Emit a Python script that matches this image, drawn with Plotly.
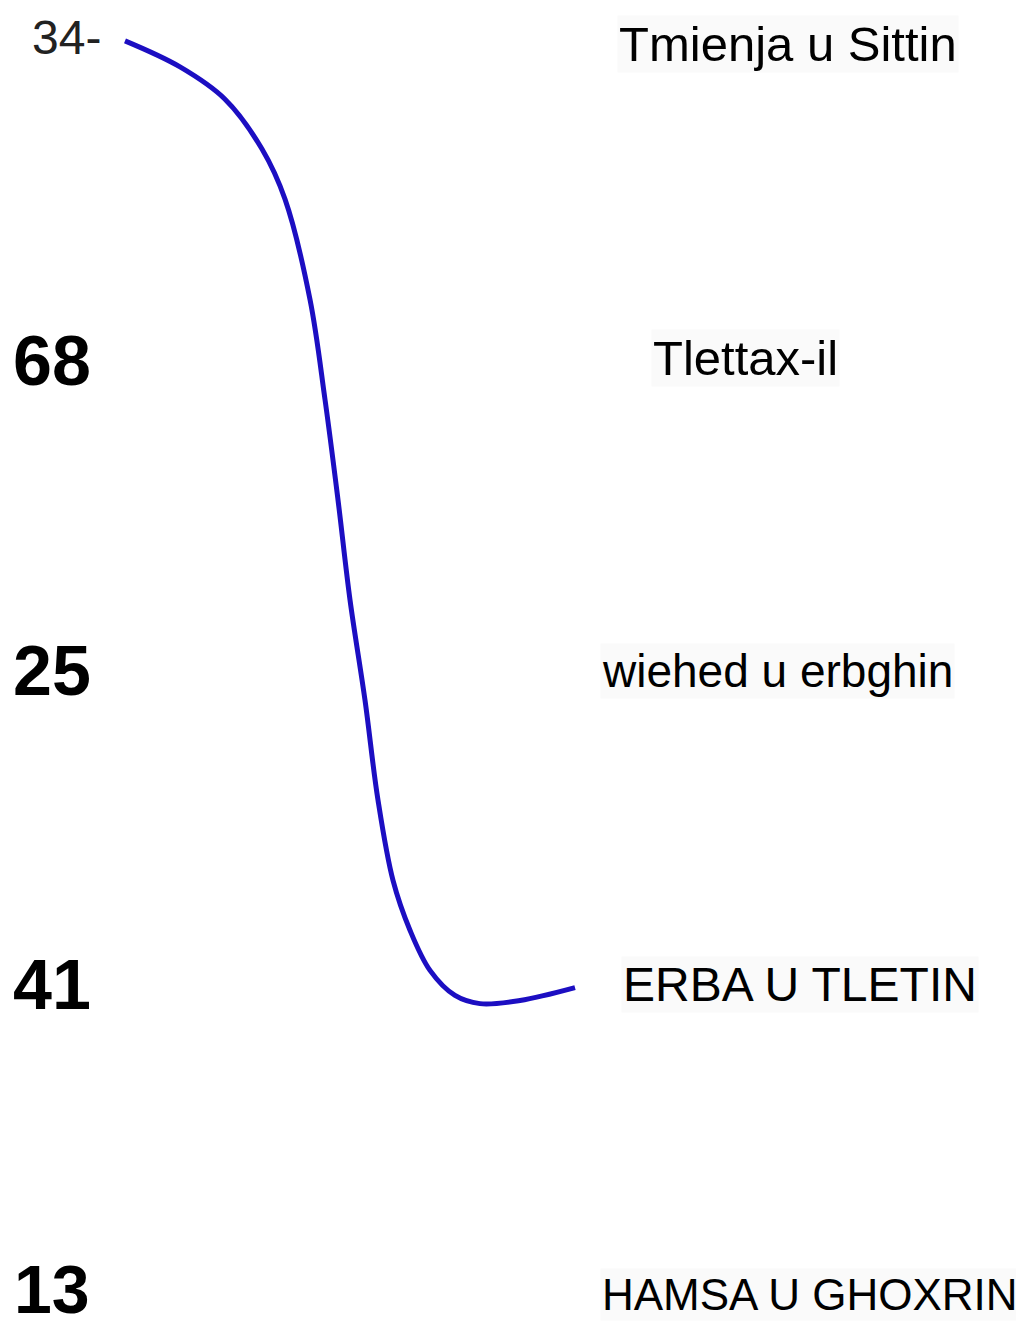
import plotly.graph_objects as go

# Matching exercise: numbers (left) and Maltese number words (right)
left_numbers = ["34-", "68", "25", "41", "13"]
right_words = ["Tmienja u Sittin", "Tlettax-il", "wiehed u erbghin", "ERBA U TLETIN", "HAMSA U GHOXRIN"]
rows = [0, 1, 2, 3, 4]

# Hand-drawn connecting line (x in page units, y in row units)
curve_x = [125, 180, 225, 262, 285, 310, 325, 338, 350, 365, 378, 393, 410, 430, 455, 480, 520, 575]
curve_y = [-0.01, 0.073, 0.176, 0.335, 0.495, 0.815, 1.134, 1.454, 1.773, 2.093, 2.412, 2.668, 2.827, 2.955, 3.035, 3.061, 3.051, 3.010]

W, H = 1024, 1334
page_off = 8  # default page body margin
row0_px, row_step_px = 45 - page_off - 1, 313.5
y_top = -row0_px / row_step_px
y_bot = (H - row0_px) / row_step_px

fig = go.Figure()
fig.add_trace(go.Scatter(
    x=curve_x, y=curve_y, mode="lines",
    line=dict(color="#1c0ec2", width=5, shape="spline", smoothing=1.0),
    hoverinfo="skip", showlegend=False))

left_x = [66, 52, 52, 52, 52]
left_dy = [-0.02, 0.01, 0.0, 0.0, -0.03]
left_size = [48, 70, 70, 70, 68]
for i, (r, t) in enumerate(zip(rows, left_numbers)):
    if i == 0:
        font = dict(family="Liberation Sans, Arial, sans-serif", size=left_size[i], color="#222")
    else:
        font = dict(family="Liberation Sans, Arial, sans-serif", size=left_size[i], color="#000", weight="bold")
    fig.add_annotation(x=left_x[i], y=r + left_dy[i], text=t, showarrow=False,
                       xanchor="center", yanchor="middle", font=font)

right_x = [788, 745, 777, 800, 1020]
right_anchor = ["center", "center", "center", "center", "right"]
right_size = [49, 49, 46, 48, 44]
right_dy = [0.0, 0.0, 0.0, 0.0, -0.01]
for i, (r, t) in enumerate(zip(rows, right_words)):
    fig.add_annotation(x=right_x[i], y=r + right_dy[i], text=t, showarrow=False,
                       xanchor=right_anchor[i], yanchor="middle",
                       font=dict(family="Liberation Sans, Arial, sans-serif", size=right_size[i], color="#000"),
                       bgcolor="#fafafa")

fig.update_layout(
    width=W, height=H, margin=dict(l=0, r=0, t=0, b=0),
    paper_bgcolor="white", plot_bgcolor="white",
    xaxis=dict(range=[page_off, W + page_off], visible=False, fixedrange=True),
    yaxis=dict(range=[y_bot, y_top], visible=False, fixedrange=True),
)
fig.write_html("out.html")
